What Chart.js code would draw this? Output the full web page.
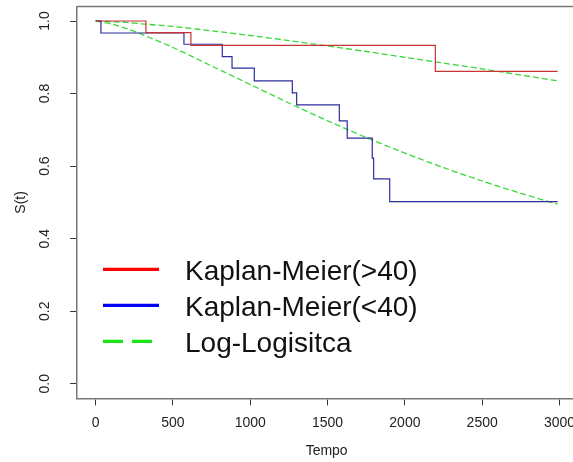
<!DOCTYPE html>
<html><head><meta charset="utf-8">
<script src="https://cdn.jsdelivr.net/npm/chart.js@4"></script>
<style>html,body{margin:0;padding:0;overflow:hidden;background:#fff;}#wrap{width:600px;height:462px;}</style>
</head><body><div id="wrap"><canvas id="c" width="600" height="462"></canvas></div>
<script>
// Kaplan-Meier (>40)
const kmOldTimes = [0, 325, 616, 2197, 2988];
const kmOldSurv  = [1, 0.968, 0.933, 0.861, 0.861];
// Kaplan-Meier (<40)
const kmYoungTimes = [0, 34, 571, 819, 882, 1026, 1272, 1300, 1576, 1627, 1789, 1798, 1902, 2988];
const kmYoungSurv  = [1, 0.967, 0.936, 0.902, 0.870, 0.835, 0.802, 0.769, 0.725, 0.677, 0.622, 0.565, 0.502, 0.502];
// Log-logistic fitted curves
const llTimes = [0, 100, 200, 300, 500, 750, 1000, 1250, 1500, 1750, 2000, 2250, 2500, 2750, 2988];
const llUpper = [1, 0.998, 0.996, 0.992, 0.985, 0.973, 0.960, 0.946, 0.931, 0.916, 0.900, 0.884, 0.868, 0.851, 0.835];
const llLower = [1, 0.992, 0.979, 0.963, 0.927, 0.876, 0.825, 0.774, 0.725, 0.679, 0.636, 0.596, 0.559, 0.525, 0.495];
// Axis ticks
const xTicks = [0, 500, 1000, 1500, 2000, 2500, 3000];
const xTickLabels = ['0', '500', '1000', '1500', '2000', '2500', '3000'];
const yTicks = [0, 0.2, 0.4, 0.6, 0.8, 1.0];
const yTickLabels = ['0.0', '0.2', '0.4', '0.6', '0.8', '1.0'];
const legendLabels = ['Kaplan-Meier(>40)', 'Kaplan-Meier(<40)', 'Log-Logisitca'];
const legendColors = ['#ff0000', '#0000ff', '#16e616'];
const legendDashes = [[], [], [20, 9]];

const toPts = (xs, ys) => xs.map((x, i) => ({x: x, y: ys[i]}));
Chart.defaults.font.family = '"Liberation Sans", Arial, Helvetica, sans-serif';

const frame = {
  id: 'frame',
  afterDraw(chart) {
    const {ctx, chartArea} = chart;
    ctx.save();
    ctx.strokeStyle = '#777';
    ctx.lineWidth = 1.5;
    ctx.beginPath();
    ctx.moveTo(chartArea.left, chartArea.top);
    ctx.lineTo(chartArea.right, chartArea.top);
    ctx.stroke();
    ctx.restore();
  }
};
const legendPlugin = {
  id: 'rlegend',
  afterDatasetsDraw(chart) {
    const {ctx} = chart;
    ctx.save();
    legendLabels.forEach((lab, i) => {
      const base = 280 + i * 36;
      const ly = base - 10.7;
      ctx.strokeStyle = legendColors[i];
      ctx.lineWidth = 3.2;
      ctx.setLineDash(legendDashes[i]);
      ctx.beginPath();
      ctx.moveTo(103, ly);
      ctx.lineTo(159, ly);
      ctx.stroke();
      ctx.setLineDash([]);
      ctx.fillStyle = '#111';
      ctx.font = '28px "Liberation Sans", Arial, sans-serif';
      ctx.textBaseline = 'alphabetic';
      ctx.textAlign = 'left';
      ctx.fillText(lab, 185, base);
    });
    ctx.restore();
  }
};

new Chart(document.getElementById('c'), {
  type: 'line',
  data: {
    datasets: [
      {label: legendLabels[0], data: toPts(kmOldTimes, kmOldSurv), stepped: true, borderColor: '#c83434', borderWidth: 1.2, pointRadius: 0, fill: false},
      {label: legendLabels[1], data: toPts(kmYoungTimes, kmYoungSurv), stepped: true, borderColor: '#2c2c9c', borderWidth: 1.2, pointRadius: 0, fill: false},
      {label: legendLabels[2], data: toPts(llTimes, llUpper), borderColor: '#3ad83a', borderWidth: 1.3, borderDash: [6, 3], pointRadius: 0, tension: 0.3, fill: false},
      {label: legendLabels[2] + ' 2', data: toPts(llTimes, llLower), borderColor: '#3ad83a', borderWidth: 1.3, borderDash: [6, 3], pointRadius: 0, tension: 0.3, fill: false}
    ]
  },
  options: {
    responsive: false,
    animation: false,
    devicePixelRatio: 1,
    layout: {padding: {top: 6.5, right: 23.9, bottom: 0, left: 0}},
    plugins: {legend: {display: false}, tooltip: {enabled: false}},
    scales: {
      x: {
        type: 'linear', position: 'bottom', min: -119.5, max: 3107.5,
        afterBuildTicks: s => { s.ticks = xTicks.map(v => ({value: v})); },
        afterFit: s => { s.height = 63.7; s.paddingLeft = 0; s.paddingRight = 0; },
        ticks: {callback: (v, i) => xTickLabels[i], font: {size: 14}, color: '#222', padding: 9, maxRotation: 0, autoSkip: false},
        grid: {drawOnChartArea: false, drawTicks: true, tickLength: 7, color: '#333', tickWidth: 1},
        border: {display: true, color: '#777', width: 1.5},
        title: {display: true, text: 'Tempo', font: {size: 14}, color: '#222', padding: {top: 0, bottom: 2.6}}
      },
      y: {
        type: 'linear', position: 'left', min: -0.04, max: 1.04,
        afterBuildTicks: s => { s.ticks = yTicks.map(v => ({value: v})); },
        afterFit: s => { s.width = 77.2; s.paddingTop = 0; s.paddingBottom = 0; },
        ticks: {callback: (v, i) => yTickLabels[i], font: {size: 14}, color: '#222', padding: 15.3, minRotation: 90, maxRotation: 90, crossAlign: 'center', autoSkip: false},
        grid: {drawOnChartArea: false, drawTicks: true, tickLength: 7, color: '#333', tickWidth: 1},
        border: {display: true, color: '#777', width: 1.5},
        title: {display: true, text: 'S(t)', font: {size: 14}, color: '#222', padding: {top: 12.6, bottom: 0}}
      }
    }
  },
  plugins: [frame, legendPlugin]
});
</script></body></html>
